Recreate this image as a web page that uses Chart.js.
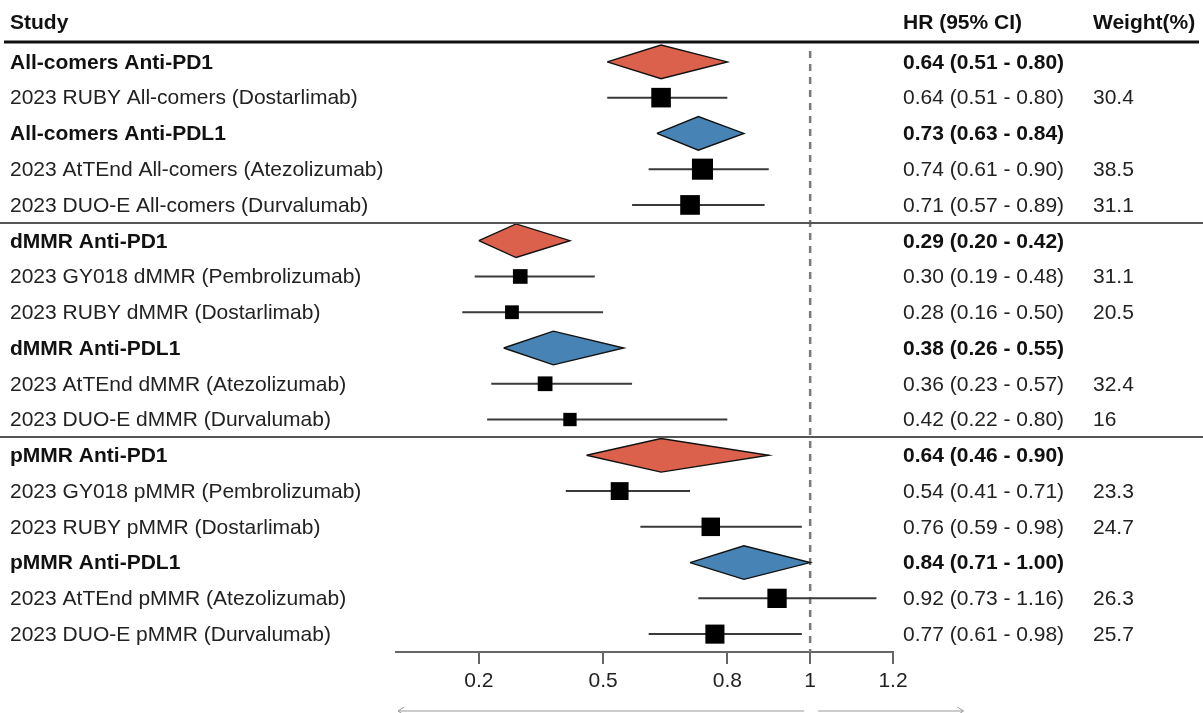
<!DOCTYPE html>
<html>
<head>
<meta charset="utf-8">
<script src="https://cdn.jsdelivr.net/npm/chart.js@4.4.0/dist/chart.umd.min.js"></script>
<style>
  html, body { margin: 0; padding: 0; background: #fff; }
</style>
</head>
<body>
<canvas id="forest" width="1203" height="713"></canvas>
<script>
// rows, top to bottom
const studies = [
  'All-comers Anti-PD1',
  '2023 RUBY All-comers (Dostarlimab)',
  'All-comers Anti-PDL1',
  '2023 AtTEnd All-comers (Atezolizumab)',
  '2023 DUO-E All-comers (Durvalumab)',
  'dMMR Anti-PD1',
  '2023 GY018 dMMR (Pembrolizumab)',
  '2023 RUBY dMMR (Dostarlimab)',
  'dMMR Anti-PDL1',
  '2023 AtTEnd dMMR (Atezolizumab)',
  '2023 DUO-E dMMR (Durvalumab)',
  'pMMR Anti-PD1',
  '2023 GY018 pMMR (Pembrolizumab)',
  '2023 RUBY pMMR (Dostarlimab)',
  'pMMR Anti-PDL1',
  '2023 AtTEnd pMMR (Atezolizumab)',
  '2023 DUO-E pMMR (Durvalumab)'
];
// '' = single study, otherwise pooled subgroup of that drug class
const pooled = ['PD1', '', 'PDL1', '', '', 'PD1', '', '', 'PDL1', '', '', 'PD1', '', '', 'PDL1', '', ''];
const hr    = [0.64, 0.64, 0.73, 0.74, 0.71, 0.29, 0.30, 0.28, 0.38, 0.36, 0.42, 0.64, 0.54, 0.76, 0.84, 0.92, 0.77];
const lower = [0.51, 0.51, 0.63, 0.61, 0.57, 0.20, 0.19, 0.16, 0.26, 0.23, 0.22, 0.46, 0.41, 0.59, 0.71, 0.73, 0.61];
const upper = [0.80, 0.80, 0.84, 0.90, 0.89, 0.42, 0.48, 0.50, 0.55, 0.57, 0.80, 0.90, 0.71, 0.98, 1.00, 1.16, 0.98];
const weights = ['', '30.4', '', '38.5', '31.1', '', '31.1', '20.5', '', '32.4', '16', '', '23.3', '24.7', '', '26.3', '25.7'];
const groupEnds = [4, 10];   // last row of each block before a divider
const xTicks = [0.2, 0.5, 0.8, 1, 1.2];

const FONT = '"Liberation Sans", Arial, sans-serif';
const diamondColors = { PD1: '#dc614c', PDL1: '#4883b6' };

// whiskers: one line with gaps between studies
const whiskerPts = [];
const squarePts = [];
const squareSizes = [];
for (let i = 0; i < studies.length; i++) {
  if (pooled[i]) continue;
  whiskerPts.push({ x: lower[i], y: i }, { x: upper[i], y: i }, { x: null, y: null });
  squarePts.push({ x: hr[i], y: i });
  // box grows with precision of the estimate
  const side = 10 + 1.1 * 3.92 / Math.log(upper[i] / lower[i]);
  squareSizes.push(side / Math.SQRT2);
}

const datasets = [
  {
    type: 'line', data: whiskerPts, borderColor: '#3a3a3a', borderWidth: 2,
    pointRadius: 0, spanGaps: false, order: 3
  },
  {
    type: 'scatter', data: squarePts, pointStyle: 'rect', pointRadius: squareSizes,
    backgroundColor: '#000', borderWidth: 0, order: 1
  }
];

// diamonds for pooled rows
for (let i = 0; i < studies.length; i++) {
  if (!pooled[i]) continue;
  datasets.push({
    type: 'line',
    data: [
      { x: lower[i], y: i }, { x: hr[i], y: i - 0.47 }, { x: upper[i], y: i },
      { x: hr[i], y: i + 0.47 }, { x: lower[i], y: i }
    ],
    fill: 'shape',
    backgroundColor: diamondColors[pooled[i]],
    borderColor: '#111', borderWidth: 1.4,
    pointRadius: 0, tension: 0, order: 2
  });
}

// dashed line at HR = 1
const refLine = {
  id: 'refLine',
  beforeDatasetsDraw(chart) {
    const { ctx, scales: { x }, chartArea } = chart;
    const px = x.getPixelForValue(1);
    ctx.save();
    ctx.strokeStyle = '#7a7a7a';
    ctx.lineWidth = 2.5;
    ctx.setLineDash([7, 6]);
    ctx.beginPath();
    ctx.moveTo(px, chartArea.top + 7);
    ctx.lineTo(px, chartArea.bottom);
    ctx.stroke();
    ctx.restore();
  }
};

// table text, rules and the arrows under the axis
const tableText = {
  id: 'tableText',
  afterDraw(chart) {
    const { ctx, scales: { x, y }, width } = chart;
    ctx.save();
    ctx.textBaseline = 'middle';
    ctx.fillStyle = '#111';

    ctx.font = 'bold 21px ' + FONT;
    ctx.fillText('Study', 10, 23);
    ctx.fillText('HR (95% CI)', 903, 23);
    ctx.fillText('Weight(%)', 1093, 23);

    ctx.strokeStyle = '#111';
    ctx.lineWidth = 3;
    ctx.beginPath();
    ctx.moveTo(4, 42);
    ctx.lineTo(width - 4, 42);
    ctx.stroke();

    ctx.strokeStyle = '#555';
    ctx.lineWidth = 2;
    groupEnds.forEach(r => {
      const py = Math.round(y.getPixelForValue(r + 0.5));
      ctx.beginPath();
      ctx.moveTo(0, py);
      ctx.lineTo(width, py);
      ctx.stroke();
    });

    for (let i = 0; i < studies.length; i++) {
      const py = y.getPixelForValue(i) + 1;
      ctx.font = (pooled[i] ? 'bold ' : '') + '21px ' + FONT;
      ctx.fillStyle = pooled[i] ? '#111' : '#222';
      ctx.fillText(studies[i], 10, py);
      ctx.fillText(hr[i].toFixed(2) + ' (' + lower[i].toFixed(2) + ' - ' + upper[i].toFixed(2) + ')', 903, py);
      if (weights[i]) ctx.fillText(weights[i], 1093, py);
    }

    // direction arrows
    const ay = 711;
    const x0 = x.getPixelForValue(0);
    const x1 = x.getPixelForValue(1);
    const x2 = x.getPixelForValue(1.37);
    ctx.strokeStyle = '#999';
    ctx.lineWidth = 1;
    ctx.beginPath();
    ctx.moveTo(x0 + 2, ay); ctx.lineTo(x1 - 6, ay);
    ctx.moveTo(x0 + 8, ay - 4); ctx.lineTo(x0 + 2, ay); ctx.lineTo(x0 + 8, ay + 4);
    ctx.moveTo(x1 + 8, ay); ctx.lineTo(x2, ay);
    ctx.moveTo(x2 - 6, ay - 4); ctx.lineTo(x2, ay); ctx.lineTo(x2 - 6, ay + 4);
    ctx.stroke();
    ctx.restore();
  }
};

new Chart(document.getElementById('forest'), {
  type: 'scatter',
  data: { datasets: datasets },
  options: {
    responsive: false,
    animation: false,
    layout: { padding: { left: 396, right: 310, top: 44, bottom: 0 } },
    plugins: { legend: { display: false }, tooltip: { enabled: false } },
    scales: {
      x: {
        type: 'linear', min: 0, max: 1.2,
        afterBuildTicks: s => { s.ticks = xTicks.map(v => ({ value: v })); },
        afterFit: s => { s.height = 61; },
        ticks: { font: { size: 21, family: FONT }, color: '#222', padding: 5, callback: v => String(v) },
        grid: { drawOnChartArea: false, drawTicks: true, tickLength: 12, color: '#666', lineWidth: 2 },
        border: { display: true, color: '#666', width: 2 }
      },
      y: { type: 'linear', reverse: true, min: -0.5, max: 16.5, display: false }
    }
  },
  plugins: [refLine, tableText]
});
</script>
</body>
</html>
